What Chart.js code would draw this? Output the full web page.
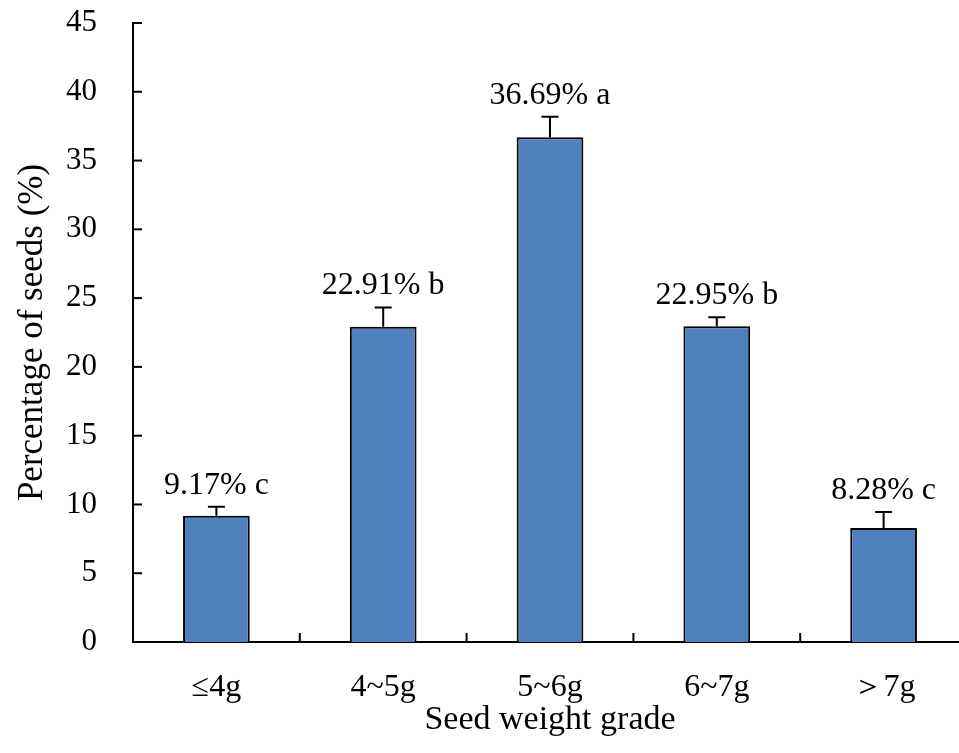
<!DOCTYPE html>
<html>
<head>
<meta charset="utf-8">
<script src="https://cdn.jsdelivr.net/npm/chart.js@4/dist/chart.umd.min.js"></script>
<style>
  html, body { margin: 0; padding: 0; background: #fff; overflow: hidden; }
  .wrap { width: 967px; height: 753px; }
</style>
</head>
<body>
<div class="wrap"><canvas id="chart"></canvas></div>
<script>
const categories = ['≤4g', '4~5g', '5~6g', '6~7g', '＞7g'];
const percentages = [9.17, 22.91, 36.69, 22.95, 8.28];
const errors = [0.66, 1.41, 1.49, 0.65, 1.17];
const letters = ['c', 'b', 'a', 'b', 'c'];
const yMin = 0, yMax = 45, yStep = 5;

const serif = '"Liberation Serif", "Times New Roman", serif';

// error bars, significance labels and inward tick marks
const extras = {
  id: 'extras',
  afterDatasetsDraw(chart) {
    const ctx = chart.ctx;
    const x = chart.scales.x, y = chart.scales.y;
    const meta = chart.getDatasetMeta(0);
    ctx.save();
    ctx.strokeStyle = '#000';
    ctx.lineWidth = 2;
    meta.data.forEach((bar, i) => {
      const top = y.getPixelForValue(percentages[i] + errors[i]);
      ctx.beginPath();
      ctx.moveTo(bar.x, bar.y);
      ctx.lineTo(bar.x, top);
      ctx.moveTo(bar.x - 8.5, top);
      ctx.lineTo(bar.x + 8.5, top);
      ctx.stroke();

      ctx.fillStyle = '#000';
      ctx.font = '32px ' + serif;
      ctx.textAlign = 'center';
      ctx.textBaseline = 'alphabetic';
      ctx.fillText(percentages[i].toFixed(2) + '% ' + letters[i], bar.x, top - 13);
    });

    // y ticks pointing inside
    y.ticks.forEach((t, i) => {
      const py = y.getPixelForTick(i);
      ctx.beginPath();
      ctx.moveTo(y.right, py);
      ctx.lineTo(y.right + 9, py);
      ctx.stroke();
    });
    // x ticks between categories, pointing up
    const n = categories.length;
    for (let i = 0; i < n - 1; i++) {
      const px = (x.getPixelForTick(i) + x.getPixelForTick(i + 1)) / 2;
      ctx.beginPath();
      ctx.moveTo(px, x.top);
      ctx.lineTo(px, x.top - 9);
      ctx.stroke();
    }
    ctx.restore();
  }
};

new Chart(document.getElementById('chart'), {
  type: 'bar',
  data: {
    labels: categories,
    datasets: [{
      data: percentages,
      backgroundColor: '#4F81BD',
      borderColor: '#000',
      borderWidth: 2,
      borderSkipped: 'bottom',
      barPercentage: 0.4,
      categoryPercentage: 1.0
    }]
  },
  options: {
    responsive: true,
    maintainAspectRatio: false,
    animation: false,
    devicePixelRatio: 1,
    layout: { padding: { top: 23, right: 0, bottom: 0, left: 0 } },
    plugins: { legend: { display: false }, tooltip: { enabled: false } },
    scales: {
      x: {
        grid: { display: false, drawTicks: false },
        border: { display: true, color: '#000', width: 2 },
        ticks: { color: '#000', padding: 26, font: { family: serif, size: 32 } },
        title: {
          display: true,
          text: 'Seed weight grade',
          color: '#000',
          font: { family: serif, size: 34 },
          padding: { top: 0, bottom: 13 }
        },
        afterFit(scale) { scale.height = 111; scale.paddingLeft = 0; scale.paddingRight = 0; }
      },
      y: {
        min: yMin,
        max: yMax,
        grid: { display: false, drawTicks: false },
        border: { display: true, color: '#000', width: 2 },
        ticks: { stepSize: yStep, color: '#000', padding: 36, font: { family: serif, size: 31 } },
        title: {
          display: true,
          text: 'Percentage of seeds (%)',
          color: '#000',
          font: { family: serif, size: 35 },
          padding: { top: 12, bottom: 0 }
        },
        afterFit(scale) { scale.width = 133; scale.paddingTop = 0; scale.paddingBottom = 0; }
      }
    }
  },
  plugins: [extras]
});
</script>
</body>
</html>
